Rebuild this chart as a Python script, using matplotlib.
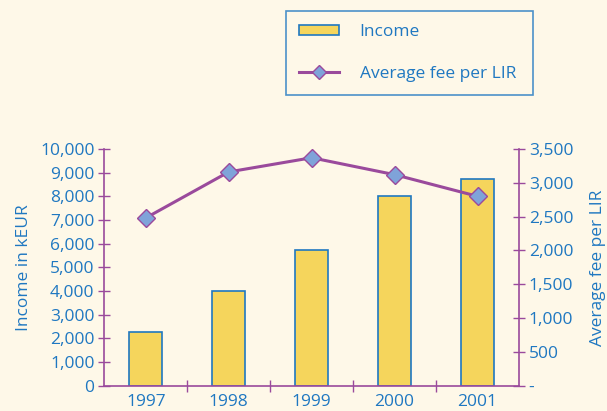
import matplotlib
matplotlib.use("Agg")
import matplotlib.pyplot as plt
from matplotlib.ticker import FuncFormatter, FixedLocator

years = ["1997", "1998", "1999", "2000", "2001"]
income = [2250, 4000, 5720, 8000, 8750]
avg_fee = [2480, 3160, 3370, 3120, 2800]

BG = "#FEF8E8"
BLUE = "#1F78C1"
PURPLE = "#9A4A9C"
YELLOW = "#F5D55C"
MARKER = "#7FA3D9"

plt.rcParams['font.family'] = ['Open Sans', 'DejaVu Sans']
FS = 12.5

fig = plt.figure(figsize=(6.07, 4.11), dpi=100, facecolor=BG)
ax = fig.add_axes([0.1718, 0.0616, 0.6832, 0.576])
ax.set_facecolor(BG)
x = list(range(len(years)))
bars = ax.bar(x, income, width=0.4, color=YELLOW, edgecolor=BLUE, linewidth=1.2, label="Income", zorder=2)
ax.set_xlim(-0.5, 4.5)
ax.set_ylim(0, 10000)
ax.set_yticks(range(0, 10001, 1000))
ax.yaxis.set_major_formatter(FuncFormatter(lambda v, p: f"{int(v):,}"))
ax.set_xticks(x)
ax.set_xticklabels(years)
ax.xaxis.set_minor_locator(FixedLocator([0.5, 1.5, 2.5, 3.5]))
ax.tick_params(axis='x', which='major', length=0, labelsize=FS, labelcolor=BLUE, pad=6)
ax.tick_params(axis='x', which='minor', length=8, direction='inout', color=PURPLE, width=1)
ax.tick_params(axis='y', length=8, direction='inout', color=PURPLE, width=1, labelsize=FS, labelcolor=BLUE, pad=3)
for s in ['top', 'right']:
    ax.spines[s].set_visible(False)
for s in ['left', 'bottom']:
    ax.spines[s].set_color(PURPLE)
    ax.spines[s].set_linewidth(1.2)
ax.set_ylabel("Income in kEUR", color=BLUE, fontsize=FS, labelpad=6)

ax2 = ax.twinx()
ax2.set_ylim(0, 3500)
ax2.set_yticks(range(0, 3501, 500))
ax2.yaxis.set_major_formatter(FuncFormatter(lambda v, p: "-" if v == 0 else f"{int(v):,}"))
line, = ax2.plot(x, avg_fee, color=PURPLE, linewidth=2.2, marker='D', markersize=9,
                 markerfacecolor=MARKER, markeredgecolor=PURPLE, markeredgewidth=1, label="Average fee per LIR", zorder=3)
ax2.tick_params(axis='y', length=8, direction='inout', color=PURPLE, width=1, labelsize=FS, labelcolor=BLUE, pad=3)
for s in ['top', 'left', 'bottom']:
    ax2.spines[s].set_visible(False)
ax2.spines['right'].set_color(PURPLE)
ax2.spines['right'].set_linewidth(1.2)
ax2.set_ylabel("Average fee per LIR", color=BLUE, fontsize=FS, labelpad=12)

leg = fig.legend(handles=[bars, line], loc='upper left', bbox_to_anchor=(0.471, 0.776, 0.407, 0.197),
                 mode='expand', frameon=True, fancybox=False, fontsize=FS, labelcolor=BLUE,
                 borderaxespad=0, handlelength=2.3, handleheight=0.55, handletextpad=1.2,
                 borderpad=0.75, labelspacing=1.5, markerscale=0.8)
leg.get_frame().set_edgecolor(BLUE)
leg.get_frame().set_facecolor(BG)
leg.get_frame().set_linewidth(1.2)

fig.savefig("out.png", dpi=100, facecolor=BG)
